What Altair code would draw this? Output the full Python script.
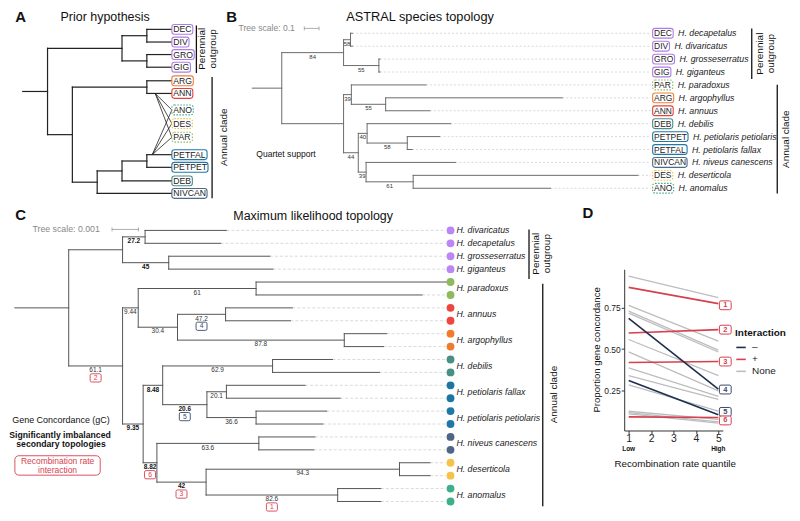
import altair as alt
import pandas as pd

# ============================ DATA ============================
# ---- Panel A: prior hypothesis (cladogram, branch lengths in steps) ----
A_TREE = ("root", 1, [
    ("per", 3, [("pa", 1, [("DEC", 1, None), ("DIV", 1, None)]),
                ("pb", 1, [("GRO", 1, None), ("GIG", 1, None)])]),
    ("ann", 1, [("aa", 3, [("ARG", 1, None), ("ANN", 1, None)]),
                ("ab", 1, [("ac", 1, [("ad", 1, [("PETFAL", 1, None), ("PETPET", 1, None)]),
                                      ("DEB", 2, None)]),
                           ("NIVCAN", 3, None)])]),
])
A_CODES = ["DEC", "DIV", "GRO", "GIG", "ARG", "ANN", "ANO", "DES", "PAR",
           "PETFAL", "PETPET", "DEB", "NIVCAN"]
A_ROWS = [0, 0.98, 1.95, 2.93, 3.98, 4.96, 6.24, 7.29, 8.35, 9.7, 10.68, 11.73, 12.7]
A_HYBRIDS = ["ANO", "DES", "PAR"]
A_HYB_FROM = ["ANN", "PETFAL"]

# ---- Panel B: ASTRAL species topology (coalescent units) ----
B_TREE = ("root", 0.20, [
    ("per", 0.42, [("bDD", 0.047, [("DEC", 0.013, None), ("DIV", 0.013, None)]),
                   ("bGG", 0.24, [("GRO", 0.007, None), ("GIG", 0.007, None)])]),
    ("ann", 0.42, [("bPA", 0.053, [("PAR", 0.507, None),
                                   ("bAA", 0.233, [("ARG", 1.2, None), ("ANN", 0.3, None)])]),
                   ("bLo", 0.10, [("bDP", 0.06, [("DEB", 0.567, None),
                                                 ("bPP", 0.273, [("PETPET", 0.22, None),
                                                                 ("PETFAL", 0.033, None)])]),
                                  ("bND", 0.053, [("NIVCAN", 0.607, None),
                                                  ("bDA", 0.32, [("DES", 1.527, None),
                                                                 ("ANO", 0.933, None)])])])]),
])
B_SUP_NODES = ["per", "bDD", "bGG", "bPA", "bAA", "bLo", "bDP", "bPP", "bND", "bDA"]
B_SUP = ["84", "58", "55", "39", "55", "44", "40", "58", "39", "61"]
B_CODES = ["DEC", "DIV", "GRO", "GIG", "PAR", "ARG", "ANN", "DEB", "PETPET", "PETFAL",
           "NIVCAN", "DES", "ANO"]
B_SPECIES = ["H. decapetalus", "H. divaricatus", "H. grosseserratus", "H. giganteus",
             "H. paradoxus", "H. argophyllus", "H. annuus", "H. debilis",
             "H. petiolaris petiolaris", "H. petiolaris fallax", "H. niveus canescens",
             "H. deserticola", "H. anomalus"]

# ---- Panel C: maximum likelihood topology (subs/site x 1e-3) ----
C_TREE = ("root", 1.96, [
    ("cPer", 1.96, [("cDD", 0.82, [("div", 2.96, None), ("dec", 2.75, None)]),
                    ("cGG", 1.68, [("gro", 3.68, None), ("gig", 3.79, None)])]),
    ("cAnn", 1.96, [
        ("cUp", 0.57, [("cPar", 4.29, [("par1", 7.04, None), ("par2", 6.04, None)]),
                       ("cAA", 1.43, [("cAnu", 1.75, [("ann1", 2.43, None), ("ann2", 2.36, None)]),
                                      ("cArg", 6.07, [("arg1", 1.54, None), ("arg2", 1.43, None)])])]),
        ("cLo", 0.75, [
            ("cDP", 0.71, [("cDeb", 4.0, [("deb1", 2.18, None), ("deb2", 3.89, None)]),
                           ("cPet", 1.61, [("cFal", 0.71, [("fal1", 2.86, None), ("fal2", 4.14, None)]),
                                           ("cPP", 1.79, [("pp1", 2.57, None), ("pp2", 2.43, None)])])]),
            ("cND", 0.5, [("cNiv", 3.71, [("niv1", 2.04, None), ("niv2", 2.0, None)]),
                          ("cDA", 1.79, [("cDes", 7.04, [("des1", 1.11, None), ("des2", 1.11, None)]),
                                         ("cAno", 4.79, [("ano1", 1.57, None), ("ano2", 1.57, None)])])])])]),
])
C_TIPS = ["div", "dec", "gro", "gig", "par1", "par2", "ann1", "ann2", "arg1", "arg2",
          "deb1", "deb2", "fal1", "fal2", "pp1", "pp2", "niv1", "niv2", "des1", "des2",
          "ano1", "ano2"]
C_SUP_NODES = ["cDD", "cGG", "cAnn", "cUp", "cPar", "cAA", "cAnu", "cArg", "cLo", "cDP",
               "cDeb", "cPet", "cFal", "cPP", "cND", "cNiv", "cDA", "cDes", "cAno"]
C_SUP = ["27.2", "45", "61.1", "9.44", "61", "30.4", "47.2", "87.8", "9.35", "8.48",
         "62.9", "20.6", "20.1", "36.6", "8.82", "63.6", "42", "94.3", "82.6"]
C_SUP_BOLD = ["cDD", "cGG", "cLo", "cDP", "cPet", "cND", "cDA"]
C_BOX_NODES = ["cAnn", "cAnu", "cPet", "cND", "cDA", "cAno"]
C_BOX_NUM = ["2", "4", "5", "6", "3", "1"]
C_BOX_KIND = ["+", "–", "–", "+", "+", "+"]
C_SPECIES = ["H. divaricatus", "H. decapetalus", "H. grosseserratus", "H. giganteus",
             "H. paradoxus", "H. annuus", "H. argophyllus", "H. debilis",
             "H. petiolaris fallax", "H. petiolaris petiolaris", "H. niveus canescens",
             "H. deserticola", "H. anomalus"]
C_SPECIES_TIPS = [["div"], ["dec"], ["gro"], ["gig"], ["par1", "par2"], ["ann1", "ann2"],
                  ["arg1", "arg2"], ["deb1", "deb2"], ["fal1", "fal2"], ["pp1", "pp2"],
                  ["niv1", "niv2"], ["des1", "des2"], ["ano1", "ano2"]]

# ---- Panel D: gene concordance vs recombination quantile ----
D_QUANT = [1, 5]
D_LOW = [0.944, 0.766, 0.730, 0.718, 0.558, 0.483, 0.385, 0.338, 0.282, 0.122, 0.114, 0.106,
         0.875, 0.598, 0.418, 0.088, 0.687, 0.309]
D_HIGH = [0.813, 0.548, 0.493, 0.482, 0.339, 0.246, 0.212, 0.194, 0.122, 0.072, 0.058, 0.050,
          0.776, 0.618, 0.424, 0.084, 0.256, 0.100]
D_INTER = ["None"] * 12 + ["+"] * 4 + ["–"] * 2
D_LAB = ["1", "2", "3", "4", "5", "6"]
D_LAB_Y = [0.766, 0.618, 0.424, 0.254, 0.118, 0.066]
D_LAB_INTER = ["+", "+", "+", "–", "–", "+"]
D_TICKS_X = [1, 2, 3, 4, 5]
D_TICKS_Y = [0.25, 0.5, 0.75]

# ============================ STYLE ============================
FONT = "Liberation Sans"
PURPLE = "#b07be6"
CODE_COL = {"DEC": PURPLE, "DIV": PURPLE, "GRO": PURPLE, "GIG": PURPLE,
            "ARG": "#ef7f3a", "ANN": "#e5413f", "ANO": "#3ea88a", "DES": "#f1c04a",
            "PAR": "#8bbb5b", "PETFAL": "#2379a6", "PETPET": "#2379a6",
            "DEB": "#4d8d88", "NIVCAN": "#4e6a8b"}
DOTTED = {"ANO", "DES", "PAR"}
SPECIES_COL = ["#bb86f5", "#bb86f5", "#bb86f5", "#bb86f5", "#8dba5d", "#f0443f", "#ef7b2e",
               "#4a8f85", "#1b76a2", "#1f78a6", "#4f6587", "#f5c24c", "#3fae8a"]
NAVY, RED, GREY = "#1e2e4e", "#d6404f", "#bdbdbd"
KIND_COL = {"+": RED, "–": "#3a4a6a"}
AW = {'A': .667, 'B': .667, 'C': .722, 'D': .722, 'E': .667, 'F': .611, 'G': .778,
      'I': .278, 'L': .556, 'N': .722, 'O': .778, 'P': .667, 'R': .722, 'S': .667,
      'T': .611, 'V': .667}
BOX = ("M-0.72,-0.75H0.72Q1,-0.75 1,-0.47V0.47Q1,0.75 0.72,0.75H-0.72"
       "Q-1,0.75 -1,0.47V-0.47Q-1,-0.75 -0.72,-0.75Z")

# whole figure is one layered view; reference pixel -> view pixel
SX, SY, Y0 = 0.985, 0.975, 5
W_TOT, H_TOT = 797, 521


def GX(v):
    return round(v * SX, 2)


def GY(v):
    return round((v - Y0) * SY, 2)


ONE = pd.DataFrame({"k": [0]})


def P(x0, y0, w, h, ox=0.0, ppu=1.0, oy=0.0, rh=1.0):
    return dict(x0=x0, y0=y0, w=w, h=h, ox=ox, ppu=ppu, oy=oy, rh=rh)


PA = P(0, 5, 228, 200, ox=15, ppu=25.3, oy=26, rh=13.3)
PB = P(228, 5, 569, 200, ox=249, ppu=150, oy=30, rh=13.3)
PC = P(0, 205, 628, 316, ox=7, ppu=28, oy=233, rh=13.29)


def xsc(p):
    return alt.Scale(domain=[(p["x0"] - p["ox"]) / p["ppu"], (p["x0"] + p["w"] - p["ox"]) / p["ppu"]],
                     range=[GX(p["x0"]), GX(p["x0"] + p["w"])], nice=False, zero=False)


def ysc(p):
    return alt.Scale(domain=[(p["y0"] - p["oy"]) / p["rh"], (p["y0"] + p["h"] - p["oy"]) / p["rh"]],
                     range=[GY(p["y0"]), GY(p["y0"] + p["h"])], nice=False, zero=False)


def ux(p, rx):
    return (rx - p["ox"]) / p["ppu"]


def note(s, x, y, **kw):
    kw.setdefault("font", FONT)
    kw.setdefault("color", "#111")
    return alt.Chart(ONE).mark_text(**kw).encode(
        x=alt.value(GX(x)), y=alt.value(GY(y)), text=alt.value(s))


def seg(x1, y1, x2, y2, **kw):
    return alt.Chart(ONE).mark_rule(**kw).encode(
        x=alt.value(GX(x1)), y=alt.value(GY(y1)), x2=alt.value(GX(x2)), y2=alt.value(GY(y2)))


def bracket(x, y1, y2, words, txs, ty, size=10):
    out = [seg(x, y1, x, y2, color="#111", strokeWidth=1.3)]
    for s, tx in zip(words, txs):
        out.append(note(s, tx, ty, angle=270, fontSize=size, align="center", baseline="middle"))
    return out


def scalebar(x1, x2, y):
    c = "#999"
    return [seg(x1, y, x2, y, color=c, strokeWidth=0.8),
            seg(x1, y - 2, x1, y + 2, color=c, strokeWidth=0.8),
            seg(x2, y - 2, x2, y + 2, color=c, strokeWidth=0.8)]


def layout(tree, rows):
    segs, nodes, tips = [], [], {}

    def rec(node, xp):
        name, bl, kids = node
        x = xp + bl
        if kids is None:
            y = rows[name]
            tips[name] = x
        else:
            ys = [rec(k, x) for k in kids]
            y = (ys[0] + ys[-1]) / 2.0
            segs.append((x, x, ys[0], ys[-1]))
        segs.append((xp, x, y, y))
        nodes.append((name, xp, x, y))
        return y

    rec(tree, 0.0)
    return (pd.DataFrame(segs, columns=["x1", "x2", "y1", "y2"]),
            pd.DataFrame(nodes, columns=["name", "xp", "x", "y"]).set_index("name"), tips)


def seg_chart(p, df, color, sw, **kw):
    return alt.Chart(df).mark_rule(color=color, strokeWidth=sw, **kw).encode(
        x=alt.X("x1:Q", scale=xsc(p), axis=None), x2="x2:Q",
        y=alt.Y("y1:Q", scale=ysc(p), axis=None), y2="y2:Q")


def text_w(s, fs):
    return sum(AW.get(c, 0.6) for c in s) * fs


def box_layers(p, codes, rows, bx, fs, species=None):
    xs, ys = xsc(p), ysc(p)
    ws = [text_w(c, fs) + 3.0 for c in codes]
    n = len(codes)
    df = pd.DataFrame({
        "code": codes, "row": rows,
        "y1": [r - 0.38 for r in rows], "y2": [r + 0.38 for r in rows],
        "x1": [ux(p, bx)] * n, "x2": [ux(p, bx + w) for w in ws],
        "tx": [ux(p, bx + 1.5)] * n, "sx": [ux(p, bx + w + 5) for w in ws],
        "col": [CODE_COL[c] for c in codes],
        "dot": [c in DOTTED for c in codes],
        "sp": species if species else [""] * n,
    })
    enc = dict(x=alt.X("x1:Q", scale=xs, axis=None), x2="x2:Q",
               y=alt.Y("y1:Q", scale=ys, axis=None), y2="y2:Q",
               stroke=alt.Stroke("col:N", scale=None))
    out = [alt.Chart(df[~df["dot"]]).mark_rect(fill="white", strokeWidth=1.1, cornerRadius=2.5).encode(**enc),
           alt.Chart(df[df["dot"]]).mark_rect(fill="white", strokeWidth=1.1, cornerRadius=2.5,
                                               strokeDash=[1.5, 1.5]).encode(**enc),
           alt.Chart(df).mark_text(align="left", baseline="middle", fontSize=fs, color="#222",
                                   font=FONT).encode(
               x=alt.X("tx:Q", scale=xs, axis=None), y=alt.Y("row:Q", scale=ys, axis=None),
               text="code:N")]
    if species:
        out.append(alt.Chart(df).mark_text(align="left", baseline="middle", fontSize=8.8,
                                           fontStyle="italic", color="#222", font=FONT).encode(
            x=alt.X("sx:Q", scale=xs, axis=None), y=alt.Y("row:Q", scale=ys, axis=None),
            text="sp:N"))
    return out


# ============================ PANEL A ============================
a_rows = dict(zip(A_CODES, A_ROWS))
a_segs, a_nodes, a_tips = layout(A_TREE, a_rows)
hy = []
for src, sxr in zip(A_HYB_FROM, [150, 147]):
    for h in A_HYBRIDS:
        hy.append((ux(PA, sxr), ux(PA, 167), a_rows[src], a_rows[h]))
hy_df = pd.DataFrame(hy, columns=["x1", "x2", "y1", "y2"])

A_layers = [seg_chart(PA, a_segs, "#222", 1.2, strokeCap="square"),
            seg_chart(PA, hy_df, "#222", 0.8)]
A_layers += box_layers(PA, A_CODES, A_ROWS, 167, 8.7)
A_layers += [note("A", 13, 13, fontSize=15, fontWeight="bold", align="center", baseline="middle"),
             note("Prior hypothesis", 99, 13, fontSize=12.5, align="center", baseline="middle")]
A_layers += bracket(192, 22, 71, ["Perennial", "outgroup"], [198, 209], 46)
A_layers += bracket(208, 75, 200, ["Annual clade"], [220], 137)

# ============================ PANEL B ============================
b_rows = {c: i for i, c in enumerate(B_CODES)}
b_segs, b_nodes, b_tips = layout(B_TREE, b_rows)
b_con = pd.DataFrame({"x1": [b_tips[c] for c in B_CODES],
                      "x2": [ux(PB, 655)] * len(B_CODES),
                      "y1": [b_rows[c] for c in B_CODES], "y2": [b_rows[c] for c in B_CODES]})
b_sup = pd.DataFrame({"t": B_SUP,
                      "xm": [(b_nodes.loc[n, "xp"] + b_nodes.loc[n, "x"]) / 2 for n in B_SUP_NODES],
                      "y": [b_nodes.loc[n, "y"] for n in B_SUP_NODES]})
B_layers = [seg_chart(PB, b_con, "#cfcfcf", 0.8, strokeDash=[2, 2]),
            seg_chart(PB, b_segs, "#6b6b6b", 1.0, strokeCap="square"),
            alt.Chart(b_sup).mark_text(fontSize=6, color="#333", dy=4, font=FONT).encode(
                x=alt.X("xm:Q", scale=xsc(PB), axis=None), y=alt.Y("y:Q", scale=ysc(PB), axis=None),
                text="t:N")]
B_layers += box_layers(PB, B_CODES, list(range(len(B_CODES))), 657, 8.5, B_SPECIES)
B_layers += [note("B", 228, 13, fontSize=15, fontWeight="bold", align="center", baseline="middle"),
             note("ASTRAL species topology", 420, 13, fontSize=12.8, align="center", baseline="middle"),
             note("Tree scale: 0.1", 235, 25, fontSize=8.6, color="#888", align="left", baseline="middle"),
             note("Quartet support", 253, 154, fontSize=8.6, align="left", baseline="middle")]
B_layers += scalebar(302, 317, 25)
B_layers += bracket(758, 25, 77, ["Perennial", "outgroup"], [766, 778], 51)
B_layers += bracket(784, 83, 195, ["Annual clade"], [793], 139)

# ============================ PANEL C ============================
c_rows = {t: i for i, t in enumerate(C_TIPS)}
c_segs, c_nodes, c_tips = layout(C_TREE, c_rows)
xsC, ysC = xsc(PC), ysc(PC)
c_con = pd.DataFrame({"x1": [c_tips[t] for t in C_TIPS], "x2": [ux(PC, 446)] * len(C_TIPS),
                      "y1": [c_rows[t] for t in C_TIPS], "y2": [c_rows[t] for t in C_TIPS]})
dot_rows, dot_cols = [], []
for tips, col in zip(C_SPECIES_TIPS, SPECIES_COL):
    for t in tips:
        dot_rows.append(c_rows[t])
        dot_cols.append(col)
c_dots = pd.DataFrame({"x": [ux(PC, 451)] * len(dot_rows), "y": dot_rows, "col": dot_cols})
c_spec = pd.DataFrame({"sp": C_SPECIES,
                       "y": [sum(c_rows[t] for t in tips) / len(tips) for tips in C_SPECIES_TIPS]})
c_sup = pd.DataFrame({"t": C_SUP,
                      "xm": [(c_nodes.loc[n, "xp"] + c_nodes.loc[n, "x"]) / 2 for n in C_SUP_NODES],
                      "y": [c_nodes.loc[n, "y"] for n in C_SUP_NODES],
                      "bold": [n in C_SUP_BOLD for n in C_SUP_NODES]})
c_box = pd.DataFrame({"t": C_BOX_NUM,
                      "xm": [(c_nodes.loc[n, "xp"] + c_nodes.loc[n, "x"]) / 2 for n in C_BOX_NODES],
                      "y": [c_nodes.loc[n, "y"] for n in C_BOX_NODES],
                      "col": [KIND_COL[k] for k in C_BOX_KIND]})
sup_enc = dict(x=alt.X("xm:Q", scale=xsC, axis=None), y=alt.Y("y:Q", scale=ysC, axis=None), text="t:N")
C_layers = [seg_chart(PC, c_con, "#d0d0d0", 0.8, strokeDash=[3, 2]),
            seg_chart(PC, c_segs, "#555", 1.0, strokeCap="square"),
            alt.Chart(c_dots).mark_circle(size=62, opacity=1).encode(
                x=alt.X("x:Q", scale=xsC, axis=None), y=alt.Y("y:Q", scale=ysC, axis=None),
                fill=alt.Fill("col:N", scale=None)),
            alt.Chart(c_spec).mark_text(align="left", baseline="middle", fontSize=8.8, fontStyle="italic",
                                        color="#222", font=FONT).encode(
                x=alt.value(GX(457)), y=alt.Y("y:Q", scale=ysC, axis=None), text="sp:N"),
            alt.Chart(c_sup[~c_sup["bold"]]).mark_text(fontSize=6.5, color="#333", dy=4.3,
                                                       font=FONT).encode(**sup_enc),
            alt.Chart(c_sup[c_sup["bold"]]).mark_text(fontSize=6.5, color="#111", fontWeight="bold",
                                                      dy=4.3, font=FONT).encode(**sup_enc),
            alt.Chart(c_box).mark_point(shape=BOX, size=121, filled=True, fill="white", opacity=1,
                                        strokeWidth=0.9, yOffset=12).encode(
                x=alt.X("xm:Q", scale=xsC, axis=None), y=alt.Y("y:Q", scale=ysC, axis=None),
                stroke=alt.Stroke("col:N", scale=None)),
            alt.Chart(c_box).mark_text(fontSize=6.8, dy=12, baseline="middle", font=FONT).encode(
                x=alt.X("xm:Q", scale=xsC, axis=None), y=alt.Y("y:Q", scale=ysC, axis=None),
                text="t:N", fill=alt.Fill("col:N", scale=None))]
C_layers += [note("C", 13, 217, fontSize=15, fontWeight="bold", align="center", baseline="middle"),
             note("Maximum likelihood topology", 311, 218, fontSize=12.5, align="center", baseline="middle"),
             note("Tree scale: 0.001", 25, 232, fontSize=8.8, color="#888", align="left", baseline="middle"),
             note("Gene Concordance (gC)", 54, 428, fontSize=9, align="center", baseline="middle"),
             note("Significantly imbalanced", 53, 443.5, fontSize=8.7, fontWeight="bold", align="center",
                  baseline="middle"),
             note("secondary topologies", 54, 453, fontSize=8.7, fontWeight="bold", align="center",
                  baseline="middle"),
             alt.Chart(ONE).mark_rect(fill="white", stroke=RED, strokeWidth=0.9, cornerRadius=4).encode(
                 x=alt.value(GX(7)), x2=alt.value(GX(94)), y=alt.value(GY(465)), y2=alt.value(GY(485))),
             note("Recombination rate", 50.5, 470.5, fontSize=8.5, color=RED, align="center", baseline="middle"),
             note("interaction", 50.5, 479.5, fontSize=8.5, color=RED, align="center", baseline="middle")]
C_layers += scalebar(106, 133, 232)
C_layers += bracket(531, 232, 283, ["Perennial", "outgroup"], [538, 549], 257)
C_layers += bracket(545, 288, 517, ["Annual clade"], [556], 402)

# ============================ PANEL D ============================
rows = []
for i, (a, b, k) in enumerate(zip(D_LOW, D_HIGH, D_INTER)):
    rows.append(dict(id=i, q=D_QUANT[0], v=a, inter=k))
    rows.append(dict(id=i, q=D_QUANT[1], v=b, inter=k))
ddf = pd.DataFrame(rows)
D_X0, D_X1, D_Y0, D_Y1 = 628, 728.5, 273, 439
dxs = alt.Scale(domain=[0.8, 5.2], range=[GX(D_X0), GX(D_X1)], nice=False, zero=False)
dys = alt.Scale(domain=[0.005, 0.985], range=[GY(D_Y1), GY(D_Y0)], nice=False, zero=False)
axis_common = dict(title=None, grid=False, tickSize=3, domainColor="#333", tickColor="#333",
                   labelColor="#222", labelFont=FONT, labelOverlap=False)
xaxis = alt.Axis(values=D_TICKS_X, format="d", labelFontSize=10.5, labelPadding=0,
                 offset=GY(D_Y1) - GY(H_TOT), **axis_common)
yaxis = alt.Axis(values=D_TICKS_Y, format=".2f", labelFontSize=8.5, labelPadding=1,
                 offset=-GX(D_X0), **axis_common)
cenc = alt.Color("inter:N", scale=alt.Scale(domain=["–", "+", "None"], range=[NAVY, RED, GREY]),
                 legend=alt.Legend(orient="none", legendX=GX(741), legendY=GY(334), title="Interaction",
                                   titleFontSize=10, titleFontWeight="bold", titleColor="#111", titleFont=FONT,
                                   labelFontSize=10, labelColor="#222", labelFont=FONT, symbolType="stroke",
                                   symbolStrokeWidth=1.6, symbolSize=90, rowPadding=1, titlePadding=3,
                                   labelOffset=5))
lab_df = pd.DataFrame({"q": [D_QUANT[1]] * len(D_LAB), "v": D_LAB_Y, "t": D_LAB,
                       "col": [KIND_COL[k] for k in D_LAB_INTER]})
lh_df = pd.DataFrame({"q": D_QUANT, "t": ["Low", "High"]})
D_layers = [
    alt.Chart(ddf).transform_filter("datum.inter == 'None'").mark_line(strokeWidth=1.3).encode(
        x=alt.X("q:Q", scale=dxs, axis=xaxis), y=alt.Y("v:Q", scale=dys, axis=yaxis),
        color=cenc, detail="id:N"),
    alt.Chart(ddf).transform_filter("datum.inter != 'None'").mark_line(strokeWidth=1.6).encode(
        x=alt.X("q:Q", scale=dxs, axis=None), y=alt.Y("v:Q", scale=dys, axis=None),
        color=cenc, detail="id:N"),
    alt.Chart(lab_df).mark_point(shape=BOX, size=140, filled=True, fill="white", opacity=1,
                                 strokeWidth=1, xOffset=7).encode(
        x=alt.X("q:Q", scale=dxs, axis=None), y=alt.Y("v:Q", scale=dys, axis=None),
        stroke=alt.Stroke("col:N", scale=None)),
    alt.Chart(lab_df).mark_text(fontSize=7.5, fontWeight="bold", xOffset=7, baseline="middle",
                                font=FONT).encode(
        x=alt.X("q:Q", scale=dxs, axis=None), y=alt.Y("v:Q", scale=dys, axis=None), text="t:N",
        fill=alt.Fill("col:N", scale=None)),
    alt.Chart(lh_df).mark_text(fontSize=6.5, fontWeight="bold", baseline="middle", font=FONT,
                               color="#111").encode(
        x=alt.X("q:Q", scale=dxs, axis=None), y=alt.value(GY(458.5)), text="t:N"),
    note("Proportion gene concordance", 600, 356, fontSize=9.6, angle=270, align="center", baseline="middle"),
    note("Recombination rate quantile", 680, 474, fontSize=9.8, align="center", baseline="middle"),
    note("D", 591, 215, fontSize=15, fontWeight="bold", align="center", baseline="middle"),
]

# ============================ ASSEMBLY ============================
chart = (alt.layer(*(A_layers + B_layers + C_layers + D_layers))
         .resolve_scale(x="independent", y="independent")
         .properties(width=GX(W_TOT), height=GY(H_TOT), padding=0)
         .configure(font=FONT)
         .configure_view(stroke=None))

chart.save("out.html", embed_options={"renderer": "svg", "actions": False})
